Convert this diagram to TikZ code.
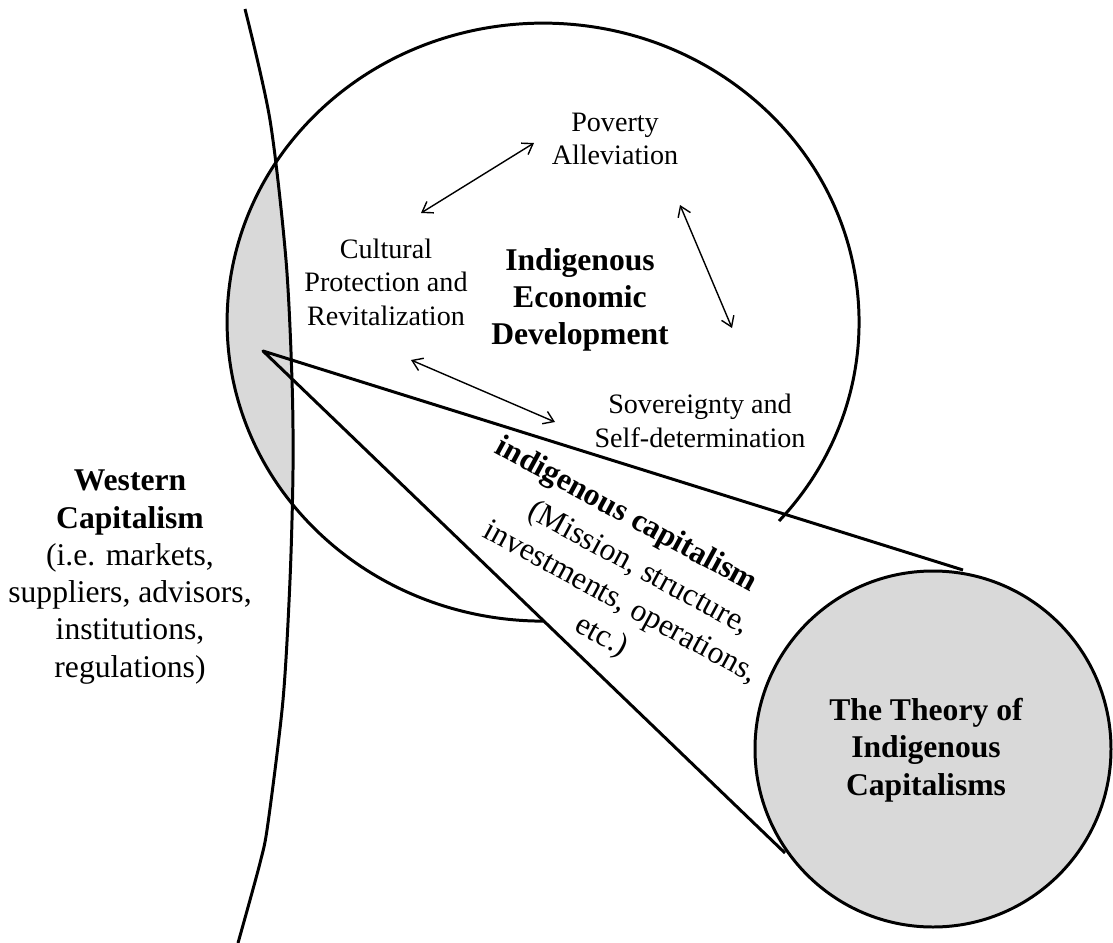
\documentclass[tikz,border=0pt]{standalone}
\usepackage{fontspec}
\setmainfont{Liberation Serif}
\usetikzlibrary{arrows.meta}
\usetikzlibrary{calc}

\definecolor{lensgray}{RGB}{217,217,217}

\tikzset{
  edge/.style={line width=0.85pt},
  link/.style={{Straight Barb[length=2.8pt,width=3.8pt]}-{Straight Barb[length=2.8pt,width=3.8pt]}, line width=0.4pt},
  goal/.style={align=center, inner sep=0pt, font=\fontsize{8}{9.5}\selectfont},
  headtxt/.style={align=center, inner sep=0pt, font=\fontsize{9}{10.6}\selectfont\bfseries},
  note/.style={align=center, inner sep=0pt, font=\fontsize{9}{10.6}\selectfont},
}

\begin{document}
\begin{tikzpicture}[x=0.1mm, y=-0.1mm, line join=round]
    \useasboundingbox (0,0) rectangle (1113,943);

    \coordinate (E) at (543,322);    % centre of the big circle
    \coordinate (Er) at (779,521);   % where its arc stops at the cone
    \coordinate (T) at (263,351);    % tip of the cone
    \coordinate (Cup) at (963,570);
    \coordinate (Clow) at (785,853);
    \coordinate (S) at (933,749);    % centre of the small circle

    \def\west{(245,9) (270,120) (286,260) (292,380) (293,470) (290,580) (283,700) (268,823) (260,863) (238,943)}

    % overlap of the two worlds
    \begin{scope}
        \clip (E) ellipse [x radius=316, y radius=299];
        \fill[lensgray] plot[smooth] coordinates {\west} -- (0,943) -- (0,0) -- cycle;
    \end{scope}

    \draw[edge] plot[smooth] coordinates {\west};
    \draw[edge] (Er) arc [start angle=41.7, end angle=-270, x radius=316, y radius=299];
    \draw[edge] (Cup) -- (T) -- (Clow);
    \draw[edge, fill=lensgray] (S) circle [radius=178];

    \node[goal] (pov) at (615,139) {Poverty\\Alleviation};
    \node[goal] (cult) at (386,282) {Cultural\\Protection and\\Revitalization};
    \node[goal] (sov) at (700,421) {Sovereignty and\\Self-determination};
    \node[headtxt] (ied) at (580,300) {Indigenous\\Economic\\Development};

    \coordinate (cp1) at (421,213);
    \coordinate (cp2) at (534,143);
    \coordinate (ps1) at (680,205);
    \coordinate (ps2) at (732,328);
    \coordinate (cs1) at (411,360);
    \coordinate (cs2) at (555,422);
    \draw[link] (cp1) -- (cp2);
    \draw[link] (ps1) -- (ps2);
    \draw[link] (cs1) -- (cs2);

    \node[note] (wc) at (130,577) {\textbf{Western}\\\textbf{Capitalism}\\(i.e. markets,\\suppliers, advisors,\\institutions,\\regulations)};
    \node[headtxt, rotate=-28.5] (icap) at (626,516) {indigenous capitalism};
    \node[note, rotate=-28.5, font=\fontsize{9}{11}\selectfont] (icapnote) at (620,603) {(Mission, structure,\\investments, operations,\\etc.)};
    \node[headtxt] (theory) at (926,750) {The Theory of\\Indigenous\\Capitalisms};
\end{tikzpicture}
\end{document}
